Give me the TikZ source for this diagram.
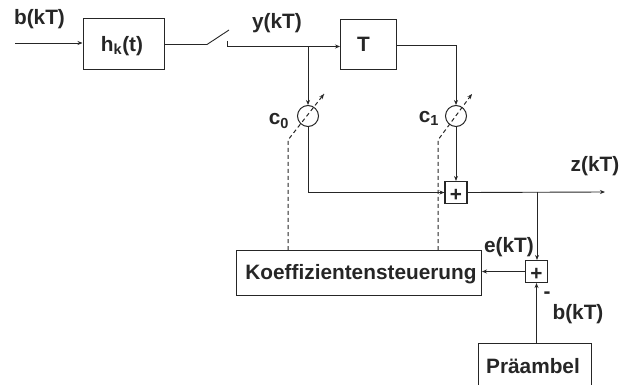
\documentclass[tikz,border=0pt]{standalone}
\usepackage{fontspec}
\setmainfont{Liberation Sans}
\usetikzlibrary{arrows.meta,calc}
\definecolor{ink}{HTML}{262626}
\tikzset{
  x=1pt,y=-1pt,
  block/.style={draw=ink,line width=1pt,rectangle,inner sep=0pt,anchor=north west},
  mixer/.style={draw=ink,line width=1pt,circle,minimum size=21pt,inner sep=0pt},
  sumbox/.style={draw=ink,line width=1.1pt,rectangle,minimum size=22pt,inner sep=0pt},
  lbl/.style={text=ink,inner sep=0pt,font=\fontsize{20.8}{21}\selectfont\bfseries},
  wire/.style={draw=ink,line width=0.9pt},
  sig/.style={wire,-{Stealth[length=5pt,width=4pt]}},
  ctl/.style={wire,dash pattern=on 4pt off 3pt,line width=1pt},
}
\begin{document}
\begin{tikzpicture}
\useasboundingbox (0,0) rectangle (619,385);
\node[block,minimum width=81.5pt,minimum height=50.5pt] (h) at (82.5,18.5) {};
\node[lbl] (hl) at (122,46) {h\textsubscript{k}(t)};
\node[block,minimum width=55.5pt,minimum height=50.5pt] (T) at (340,19) {};
\node[lbl] (Tl) at (363.5,44) {T};
\node[mixer] (c0) at (308,116) {};
\node[mixer] (c1) at (456,116) {};
\node[sumbox] (s1) at (456,192.5) {};
\node[sumbox] (s2) at (536.5,271.5) {};
\node[lbl] (p1) at (456,195) {+};
\node[lbl] (p2) at (536.5,274) {+};
\node[block,minimum width=245.5pt,minimum height=45pt] (K) at (235.5,250) {};
\node[lbl] (Kl) at (361,274) {Koeffizientensteuerung};
\node[block,minimum width=113.5pt,minimum height=50pt] (P) at (477.5,343) {};
\node[lbl] (Pl) at (533,366) {Präambel};
\node[lbl] (bl) at (39.5,19) {b(kT)};
\node[lbl] (yl) at (277,23) {y(kT)};
\node[lbl] (zl) at (595,166) {z(kT)};
\node[lbl] (el) at (509,247) {e(kT)};
\node[lbl] (b2) at (578,314) {b(kT)};
\node[lbl] (ml) at (547,295) {-};
\node[lbl] (c0l) at (279,121) {c\textsubscript{0}};
\node[lbl] (c1l) at (429,118) {c\textsubscript{1}};
\coordinate (in) at (15,43);
\coordinate (swa) at (207,44.5);
\coordinate (swb) at (229,30);
\coordinate (cta) at (227.5,41);
\coordinate (ctb) at (227.5,46.5);
\coordinate (j0) at (308,46.5);
\coordinate (zo) at (605,192);
\coordinate (j1) at (537,192);
\draw[sig] (in) -- (in -| h.west);
\draw[wire] (swa -| h.east) -- (swa) -- (swb);
\draw[wire] (cta) -- (ctb) -- (j0);
\draw[sig] (j0) -- (j0 -| T.west);
\draw[sig] (j0) -- (c0.north);
\draw[sig] (T.east |- 0,45) -| (c1.north);
\draw[sig] (c0.south) |- (s1.west);
\draw[sig] (c1.south) -- (s1.north);
\draw[sig] (s1.east) -- (zo);
\draw[sig] (j1) -- (j1 |- s2.north);
\draw[sig] (s2.west) -- (s2.west -| K.east);
\draw[sig] (P.north -| s2) -- (s2.south);
\coordinate (d0a) at (288,250);\coordinate (d0b) at (288,140);\coordinate (d0c) at (324,94);
\coordinate (d1a) at (438,250);\coordinate (d1b) at (438,140);\coordinate (d1c) at (472,94);
\draw[ctl] (d0a) -- (d0b) -- (d0c);
\draw[sig] ($(d0c)+(-2,2.6)$) -- (d0c);
\draw[ctl] (d1a) -- (d1b) -- (d1c);
\draw[sig] ($(d1c)+(-2,2.6)$) -- (d1c);
\end{tikzpicture}
\end{document}
